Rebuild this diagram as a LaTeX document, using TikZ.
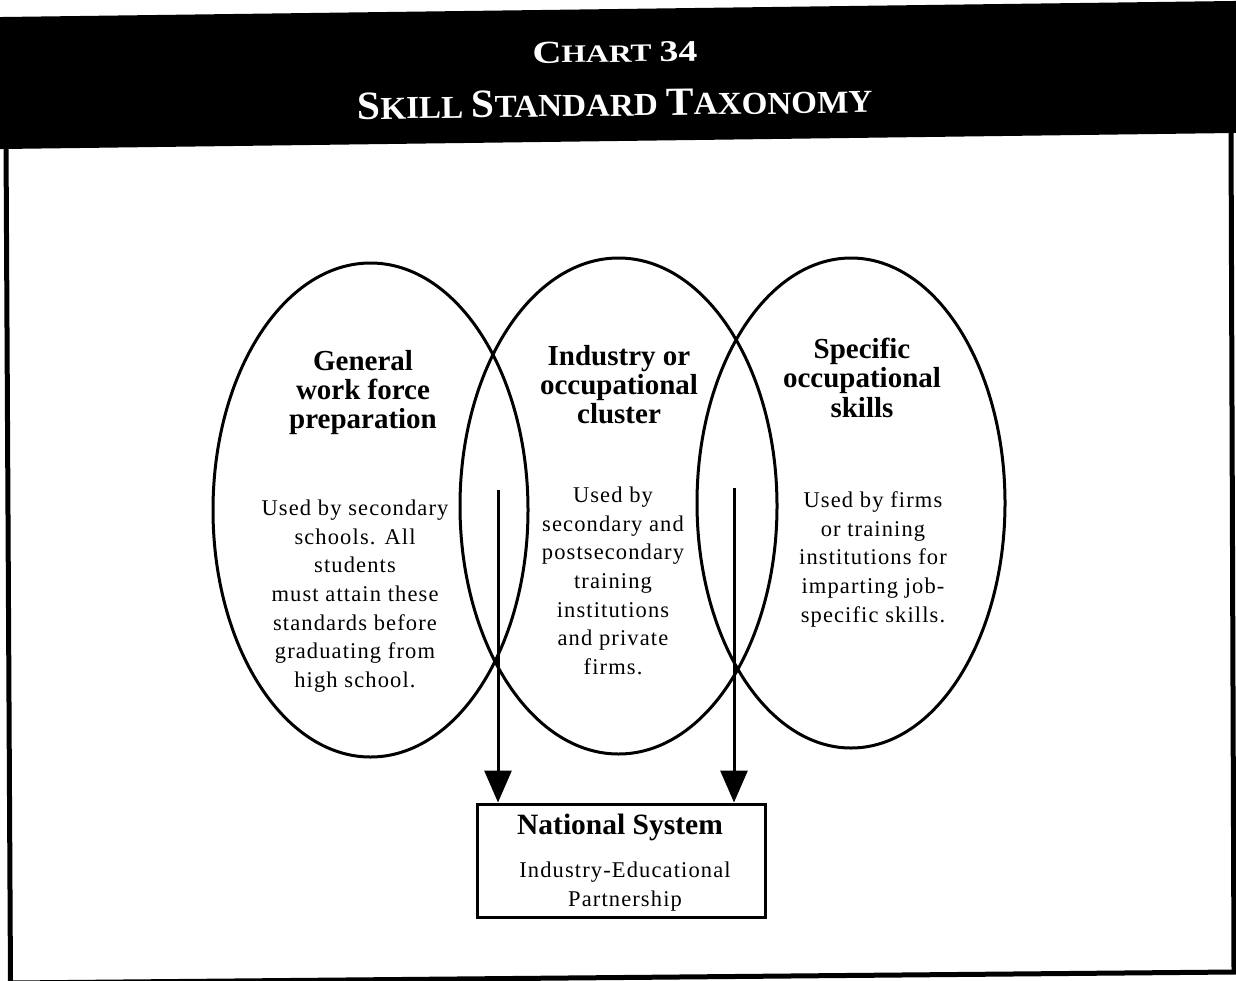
\documentclass[tikz,border=0pt]{standalone}
\usepackage{fontspec}
\setmainfont{Liberation Serif}
\newfontfamily\bodyfont[LetterSpace=5]{Liberation Serif}
\usepackage{graphicx}
\usetikzlibrary{shapes.geometric,arrows.meta}

\begin{document}
\begin{tikzpicture}[x=1pt,y=-1pt,
  ring/.style={ellipse, draw, line width=3pt, inner sep=0pt},
  headtext/.style={font=\bfseries\fontsize{29}{29.2}\selectfont, align=center, inner sep=0pt, anchor=north},
  bodytext/.style={font=\bodyfont\fontsize{22.5}{28.7}\selectfont, align=center, inner sep=0pt, anchor=north},
  titletext/.style={text=white, font=\bfseries, inner sep=0pt, anchor=base, rotate=0.74},
  arr/.style={line width=3pt, -{Triangle[length=32pt,width=27pt]}}
]
\useasboundingbox (0,0) rectangle (1236,980);

% title band and page frame
\begin{scope}
  \clip (0,0) rectangle (1236,980);
  \fill (-5,17.1) -- (1241,0.9) -- (1241,132.9) -- (-5,149.1) -- cycle;
  \draw[line width=5pt, line join=miter] (6,140) -- (10.5,983) -- (1234,972) -- (1231,130);
\end{scope}

\node[titletext] (chart) at (615,62)
  {\resizebox{165pt}{\height}{\fontsize{32}{32}\selectfont C\fontsize{25}{25}\selectfont HART\ \fontsize{30}{30}\selectfont 34}};
\node[titletext] (title) at (615,116)
  {\resizebox{515pt}{\height}{\fontsize{40}{40}\selectfont S\fontsize{32}{32}\selectfont KILL\ \fontsize{40}{40}\selectfont S\fontsize{32}{32}\selectfont TANDARD\ \fontsize{40}{40}\selectfont T\fontsize{32}{32}\selectfont AXONOMY}};

% the three overlapping skill areas
\node[ring, minimum width=315pt, minimum height=494pt] (gen)  at (370.5,510) {};
\node[ring, minimum width=317pt, minimum height=496pt] (ind)  at (618.5,506) {};
\node[ring, minimum width=308pt, minimum height=490pt] (spec) at (851,503) {};

\node[headtext] (genh)  at (363,350) {General\\work force\\preparation};
\node[headtext] (indh)  at (619,345) {Industry or\\occupational\\cluster};
\node[headtext] (spech) at (862,338) {Specific\\occupational\\skills};

\node[bodytext] (genb)  at (355,499.5) {Used by secondary\\schools. All\\students\\must attain these\\standards before\\graduating from\\high school.};
\node[bodytext] (indb)  at (613,486.5) {Used by\\secondary and\\postsecondary\\training\\institutions\\and private\\firms.};
\node[bodytext] (specb) at (873,491.5) {Used by firms\\or training\\institutions for\\imparting job-\\specific skills.};

% national system box
\node[draw, line width=3pt, minimum width=288pt, minimum height=113pt, inner sep=0pt] (nat) at (621,860.5) {};
\node[font=\bfseries\fontsize{29.5}{29.5}\selectfont, inner sep=0pt, anchor=base] (natt) at (620,834) {National System};
\node[bodytext] (natp) at (625,861.5) {Industry-Educational\\Partnership};

% arrows into the national system
\coordinate (s1) at (498,490);
\coordinate (s2) at (734,488);
\draw[arr] (s1) -- (s1 |- nat.north);
\draw[arr] (s2) -- (s2 |- nat.north);
\end{tikzpicture}
\end{document}
